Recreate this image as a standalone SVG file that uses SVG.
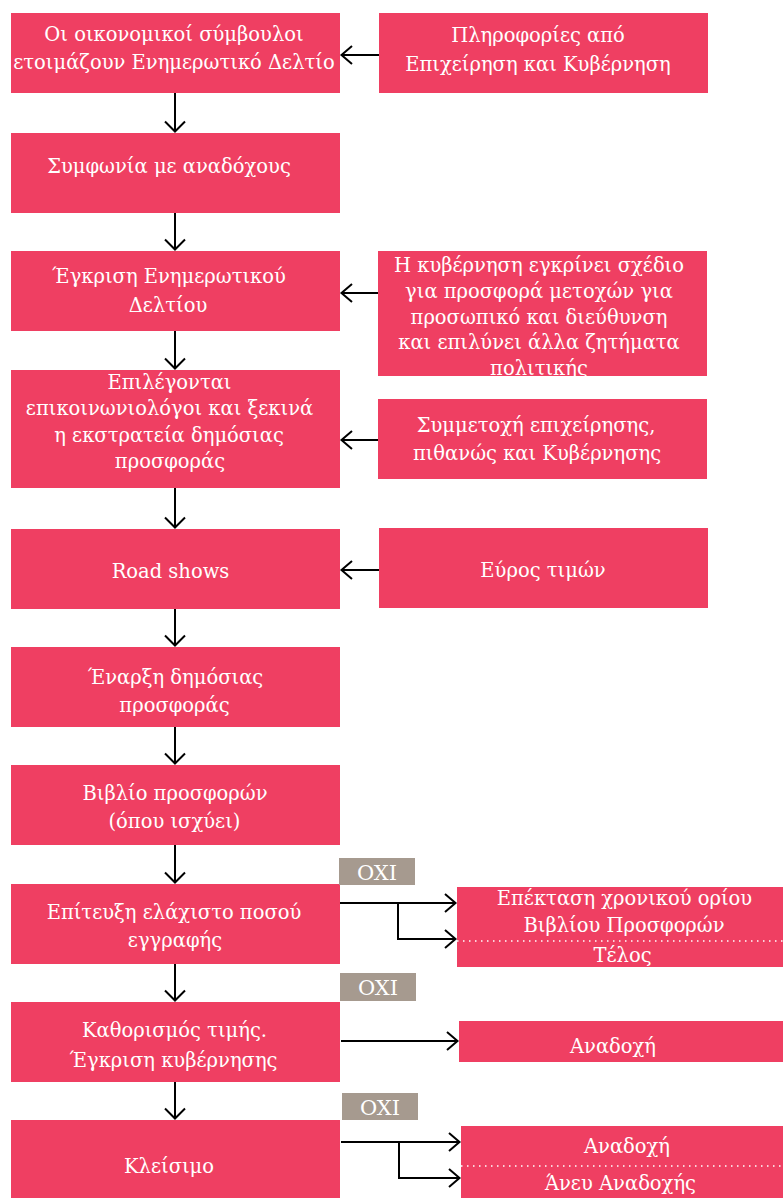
<svg xmlns="http://www.w3.org/2000/svg" width="783" height="1198" viewBox="0 0 783 1198">
<style>
.b{fill:#EF3F62}
.g{fill:#A69A8F}
text{font-family:"DejaVu Serif","Liberation Serif",serif;font-size:19.5px;fill:#FFFFFF;text-anchor:middle}
.o{font-size:21px}
.c{stroke:#000;stroke-width:2;fill:none}
.d{stroke:#FFFFFF;stroke-width:1.5;stroke-dasharray:1.5 4.5;fill:none}
</style>
<rect width="783" height="1198" fill="#FFFFFF"/>
<g id="n1"><rect class="b" x="11" y="13" width="329" height="80"/><text x="174" y="41">Οι οικονομικοί σύμβουλοι</text><text x="174" y="69">ετοιμάζουν Ενημερωτικό Δελτίο</text></g>
<g id="r1"><rect class="b" x="379" y="13" width="329" height="80"/><text x="538" y="42">Πληροφορίες από</text><text x="538" y="71">Επιχείρηση και Κυβέρνηση</text></g>
<g id="n2"><rect class="b" x="11" y="133" width="329" height="80"/><text x="169" y="173">Συμφωνία με αναδόχους</text></g>
<g id="n3"><rect class="b" x="11" y="251" width="329" height="80"/><text x="169" y="283">Έγκριση Ενημερωτικού</text><text x="168" y="312">Δελτίου</text></g>
<g id="r3"><rect class="b" x="378" y="251" width="329" height="125"/><text x="539" y="272">Η κυβέρνηση εγκρίνει σχέδιο</text><text x="539" y="298">για προσφορά μετοχών για</text><text x="539" y="324">προσωπικό και διεύθυνση</text><text x="539" y="349">και επιλύνει άλλα ζητήματα</text><text x="539" y="375">πολιτικής</text></g>
<g id="n4"><rect class="b" x="11" y="370" width="329" height="118"/><text x="169.5" y="389">Επιλέγονται</text><text x="169.5" y="415">επικοινωνιολόγοι και ξεκινά</text><text x="169" y="442">η εκστρατεία δημόσιας</text><text x="170" y="468">προσφοράς</text></g>
<g id="r4"><rect class="b" x="378" y="399" width="329" height="80"/><text x="536" y="432">Συμμετοχή επιχείρησης,</text><text x="537" y="460">πιθανώς και Κυβέρνησης</text></g>
<g id="n5"><rect class="b" x="11" y="529" width="329" height="80"/><text x="170.5" y="578">Road shows</text></g>
<g id="r5"><rect class="b" x="379" y="528" width="329" height="80"/><text x="543" y="577">Εύρος τιμών</text></g>
<g id="n6"><rect class="b" x="11" y="647" width="329" height="80"/><text x="175.5" y="684">Έναρξη δημόσιας</text><text x="174.5" y="712">προσφοράς</text></g>
<g id="n7"><rect class="b" x="11" y="765" width="329" height="80"/><text x="175" y="800">Βιβλίο προσφορών</text><text x="174.5" y="828">(όπου ισχύει)</text></g>
<g id="n8"><rect class="b" x="11" y="884" width="329" height="80"/><text x="174" y="919">Επίτευξη ελάχιστο ποσού</text><text x="175" y="947">εγγραφής</text></g>
<g id="n9"><rect class="b" x="11" y="1002" width="329" height="80"/><text x="174.5" y="1037">Καθορισμός τιμής.</text><text x="173.5" y="1067">Έγκριση κυβέρνησης</text></g>
<g id="n10"><rect class="b" x="11" y="1120" width="329" height="78"/><text x="169" y="1173">Κλείσιμο</text></g>
<g id="o1"><rect class="g" x="339" y="858" width="76" height="27"/><text class="o" x="377" y="880">OXI</text></g>
<g id="o2"><rect class="g" x="340" y="973" width="76" height="28"/><text class="o" x="378" y="995">OXI</text></g>
<g id="o3"><rect class="g" x="342" y="1093" width="76" height="27"/><text class="o" x="380" y="1115">OXI</text></g>
<g id="r8"><rect class="b" x="457" y="887" width="326" height="80"/><line class="d" x1="457" y1="941" x2="783" y2="941"/><text x="624.5" y="905">Επέκταση χρονικού ορίου</text><text x="624" y="932">Βιβλίου Προσφορών</text><text x="622.5" y="962">Τέλος</text></g>
<g id="r9"><rect class="b" x="459" y="1021" width="324" height="41"/><text x="613" y="1053">Αναδοχή</text></g>
<g id="r10"><rect class="b" x="461" y="1126" width="322" height="72"/><line class="d" x1="461" y1="1166" x2="783" y2="1166"/><text x="627" y="1153">Αναδοχή</text><text x="620.5" y="1190">Άνευ Αναδοχής</text></g>
<g id="connectors">
<path class="c" d="M175 93V131.5M165 121.5L175 131.5L185 121.5"/>
<path class="c" d="M175 213V249.5M165 239.5L175 249.5L185 239.5"/>
<path class="c" d="M175 331V368.5M165 358.5L175 368.5L185 358.5"/>
<path class="c" d="M175 488V527.5M165 517.5L175 527.5L185 517.5"/>
<path class="c" d="M175 609V645.5M165 635.5L175 645.5L185 635.5"/>
<path class="c" d="M175 727V763.5M165 753.5L175 763.5L185 753.5"/>
<path class="c" d="M175 845V882.5M165 872.5L175 882.5L185 872.5"/>
<path class="c" d="M175 964V1000.5M165 990.5L175 1000.5L185 990.5"/>
<path class="c" d="M175 1082V1118.5M165 1108.5L175 1118.5L185 1108.5"/>
<path class="c" d="M379 55H341.5M352 46L341.5 55L352 64"/>
<path class="c" d="M378 293H341.5M352 284L341.5 293L352 302"/>
<path class="c" d="M378 440H341.5M352 431L341.5 440L352 449"/>
<path class="c" d="M379 570H341.5M352 561L341.5 570L352 579"/>
<path class="c" d="M340 903H455.5M445 894L455.5 903L445 912"/>
<path class="c" d="M398 903V939H455.5M445 930L455.5 939L445 948"/>
<path class="c" d="M341 1041H457.5M447 1032L457.5 1041L447 1050"/>
<path class="c" d="M341 1142H459.5M449 1133L459.5 1142L449 1151"/>
<path class="c" d="M399 1142V1178H459.5M449 1169L459.5 1178L449 1187"/>
</g>
</svg>
